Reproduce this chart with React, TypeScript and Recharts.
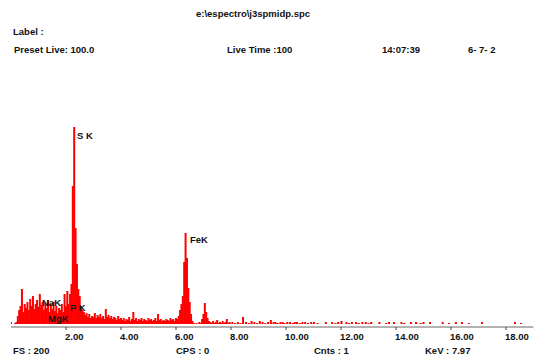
import { BarChart, Bar, XAxis, YAxis } from "recharts";

// EDS spectrum, 0.05 keV per channel from 0 to 7.95 keV
const channelWidth = 0.05;
const lowCounts = [
  2, 0, 0, 1, 2, 8, 14, 18, 35, 12,
  20, 16, 22, 14, 25, 18, 28, 15, 20, 24,
  17, 30, 19, 22, 14, 21, 16, 24, 12, 20,
  15, 22, 13, 18, 11, 16, 14, 20, 12, 30,
  18, 33, 20, 30, 40, 138, 197, 96, 60, 35,
  28, 18, 14, 12, 9, 11, 7, 10, 6, 8,
  7, 11, 6, 9, 7, 10, 6, 8, 5, 15,
  7, 9, 6, 8, 5, 7, 6, 4, 8, 5,
  6, 4, 6, 3, 5, 4, 7, 3, 5, 12,
  4, 6, 3, 5, 4, 6, 3, 5, 4, 3,
  6, 4, 5, 3, 4, 6, 3, 10, 4, 5,
  3, 4, 3, 5, 4, 3, 6, 4, 5, 3,
  6, 5, 8, 14, 20, 28, 62, 91, 66, 36,
  22, 10, 3, 1, 0, 1, 0, 2, 1, 5,
  10, 21, 12, 6, 3, 2, 1, 3, 1, 2,
  4, 1, 2, 1, 3, 1, 2, 5, 1, 2,
];

// sparse counts above 8 keV
const tailKev = [
  8.05, 8.15, 8.25, 8.35, 8.44, 8.55, 8.65, 8.75, 8.85, 8.95,
  9.05, 9.15, 9.25, 9.35, 9.45, 9.55, 9.62, 9.7, 9.8, 9.88,
  9.95, 10.05, 10.15, 10.25, 10.32, 10.4, 10.5, 10.6, 10.7, 10.8,
  10.92, 11.02, 11.15, 11.45, 11.68, 11.8, 11.9, 12.02, 12.2, 12.3,
  12.4, 12.55, 12.65, 12.78, 12.9, 13.0, 13.1, 13.4, 13.65, 13.75,
  13.93, 14.2, 14.3, 14.55, 14.73, 14.9, 15.0, 15.24, 15.7, 15.93,
  16.18, 16.4, 16.65, 17.13, 18.33, 18.55,
];
const tailCounts = [
  2, 1, 2, 1, 7, 2, 1, 3, 2, 1,
  3, 2, 1, 2, 4, 2, 2, 1, 2, 2,
  1, 2, 2, 1, 2, 2, 1, 2, 2, 1,
  2, 2, 1, 2, 2, 1, 2, 3, 2, 1,
  2, 2, 1, 2, 2, 1, 2, 2, 1, 2,
  2, 2, 1, 2, 2, 1, 2, 2, 2, 1,
  2, 2, 1, 2, 2, 1,
];

const kevTicks = [2, 4, 6, 8, 10, 12, 14, 16, 18];

const peakLabels = [
  { name: "S K", x: 77, y: 136 },
  { name: "FeK", x: 190, y: 240 },
  { name: "NaK", x: 42, y: 303 },
  { name: "P K", x: 70, y: 308 },
  { name: "MgK", x: 48, y: 319 },
];

const headerTexts = [
  { text: "e:\\espectro\\j3spmidp.spc", x: 196, y: 14 },
  { text: "Label :", x: 13, y: 32 },
  { text: "Preset Live: 100.0", x: 14, y: 50 },
  { text: "Live Time :100", x: 227, y: 50 },
  { text: "14:07:39", x: 382, y: 50 },
  { text: "6- 7- 2", x: 468, y: 50 },
  { text: "FS : 200", x: 13, y: 351 },
  { text: "CPS : 0", x: 176, y: 351 },
  { text: "Cnts : 1", x: 314, y: 351 },
  { text: "KeV : 7.97", x: 425, y: 351 },
];

const data = lowCounts
  .map((c, i) => ({ kev: +(i * channelWidth).toFixed(2), counts: c }))
  .concat(tailKev.map((k, i) => ({ kev: k, counts: tailCounts[i] })));

const font = '"Liberation Sans", Arial, sans-serif';

function KevTick(props: any) {
  const { x, y, payload } = props;
  return (
    <text
      x={x - 1}
      y={y + 8}
      textAnchor="start"
      fontFamily={font}
      fontWeight="bold"
      fontSize={9.5}
      fill="#111"
    >
      {payload.value.toFixed(2)}
    </text>
  );
}

// channel line: 2px wide, centred on the channel energy
function ChannelBar(props: any) {
  const { x, y, width, height } = props;
  if (!height) return null;
  return (
    <rect x={x + width / 2 - 1} y={y} width={2} height={height} fill="#ff0000" />
  );
}

function Txt({ text, x, y }: { text: string; x: number; y: number }) {
  return (
    <div
      style={{
        position: "absolute",
        left: x,
        top: y - 6,
        height: 12,
        lineHeight: "12px",
        fontFamily: font,
        fontWeight: "bold",
        fontSize: 9.5,
        color: "#111",
        whiteSpace: "pre",
      }}
    >
      {text}
    </div>
  );
}

export default function App() {
  return (
    <div
      style={{
        position: "absolute",
        left: 0,
        top: 0,
        width: 534,
        height: 360,
        background: "#fff",
      }}
    >
      <BarChart
        width={534}
        height={360}
        data={data}
        margin={{ top: 124, right: 0.5, bottom: 3, left: 11 }}
      >
        <XAxis
          dataKey="kev"
          type="number"
          domain={[0, 19]}
          ticks={kevTicks}
          height={30}
          axisLine={{ stroke: "#9a9a9a", strokeWidth: 1.5 }}
          tickLine={{ stroke: "#444" }}
          tickSize={3}
          tickMargin={2}
          tick={<KevTick />}
          allowDataOverflow
        />
        <YAxis hide domain={[-3, 200]} allowDataOverflow />
        <Bar
          dataKey="counts"
          fill="#ff0000"
          shape={<ChannelBar />}
          isAnimationActive={false}
        />
      </BarChart>
      {headerTexts.map((t) => (
        <Txt key={t.text} text={t.text} x={t.x} y={t.y} />
      ))}
      {peakLabels.map((t) => (
        <Txt key={t.name} text={t.name} x={t.x} y={t.y} />
      ))}
    </div>
  );
}
